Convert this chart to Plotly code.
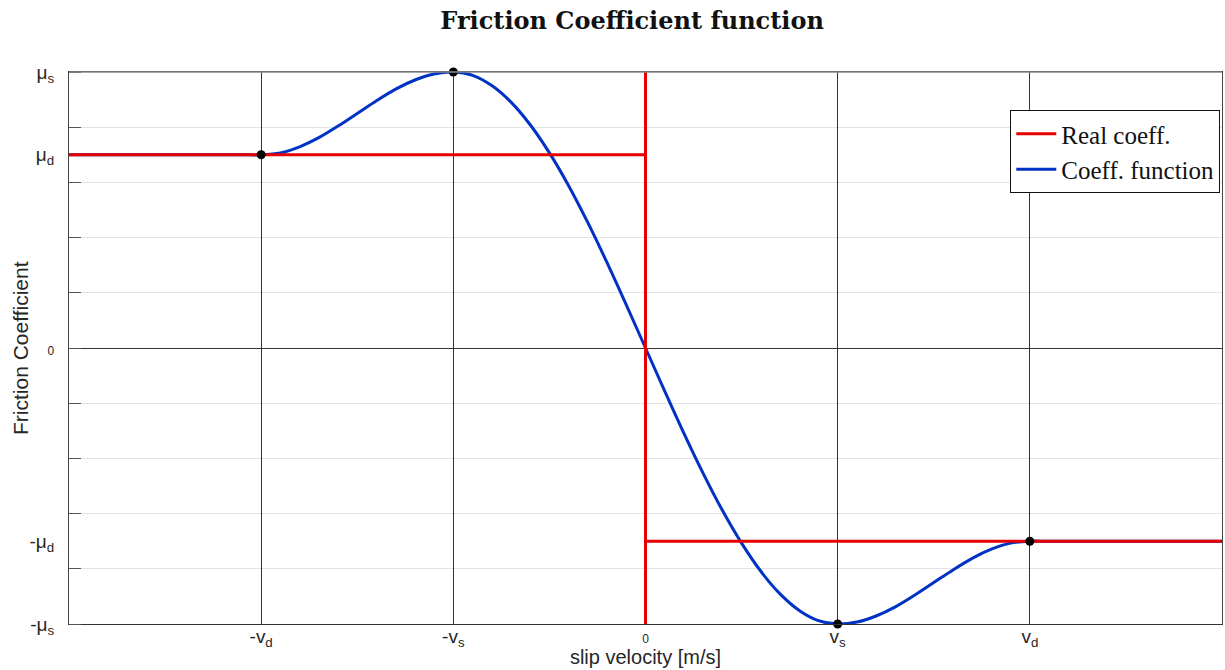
import plotly.graph_objects as go

# slip velocity (in units of v_s; v_d = 2 v_s) and friction coefficient (in units of mu_s)
x_curve = [-3.0, -2.5, -2.1, -2.0, -1.9, -1.8, -1.7, -1.6, -1.5, -1.4, -1.3, -1.2, -1.1, -1.0,
           -0.9, -0.8, -0.7, -0.6, -0.5, -0.4, -0.3, -0.2, -0.1, 0.0,
           0.1, 0.2, 0.3, 0.4, 0.5, 0.6, 0.7, 0.8, 0.9, 1.0,
           1.1, 1.2, 1.3, 1.4, 1.5, 1.6, 1.7, 1.8, 1.9, 2.0, 2.1, 2.5, 3.0]
y_curve = [0.70, 0.70, 0.70, 0.70, 0.707, 0.729, 0.762, 0.804, 0.85, 0.896, 0.938, 0.971, 0.993, 1.0,
           0.988, 0.951, 0.891, 0.809, 0.707, 0.588, 0.454, 0.309, 0.156, 0.0,
           -0.156, -0.309, -0.454, -0.588, -0.707, -0.809, -0.891, -0.951, -0.988, -1.0,
           -0.993, -0.971, -0.938, -0.896, -0.85, -0.804, -0.762, -0.729, -0.707, -0.70, -0.70,
           -0.70, -0.70]

x_real = [-3.0, 0.0, 0.0, 0.0, 0.0, 3.0]
y_real = [0.70, 0.70, 1.0, -1.0, -0.70, -0.70]

x_points = [-2.0, -1.0, 1.0, 2.0]
y_points = [0.70, 1.0, -1.0, -0.70]

x_tickvals = [-2.0, -1.0, 0.0, 1.0, 2.0]
x_ticktext = ["-v<sub>d</sub>", "-v<sub>s</sub>", "<span style='font-size:12px'>0</span>",
              "v<sub>s</sub>", "v<sub>d</sub>"]
y_tickvals = [-1.0, -0.70, 0.0, 0.70, 1.0]
y_ticktext = ["-μ<sub>s</sub>", "-μ<sub>d</sub>", "<span style='font-size:12px'>0</span>",
              "μ<sub>d</sub>", "μ<sub>s</sub>"]

RED = "#e60000"
BLUE = "#0033c4"

fig = go.Figure()
fig.add_trace(go.Scatter(x=x_curve, y=y_curve, mode="lines", name="Coeff. function",
                         line=dict(color=BLUE, width=3, shape="spline", smoothing=0.8),
                         legendrank=2))
fig.add_trace(go.Scatter(x=x_real, y=y_real, mode="lines", name="Real coeff.",
                         line=dict(color=RED, width=3), legendrank=1))
fig.add_trace(go.Scatter(x=x_points, y=y_points, mode="markers", showlegend=False,
                         marker=dict(color="black", size=9), cliponaxis=False))

fig.update_layout(
    width=1225, height=670,
    margin=dict(l=69, r=3, t=72, b=46, autoexpand=False),
    plot_bgcolor="white", paper_bgcolor="white",
    title=dict(text="<b>Friction Coefficient function</b>", x=0.516, xanchor="center",
               y=0.97, yanchor="middle",
               font=dict(family="DejaVu Serif", size=24, color="#111")),
    legend=dict(x=0.9985, xanchor="right", y=0.931, yanchor="top",
                bgcolor="white", bordercolor="#111", borderwidth=1,
                font=dict(family="Liberation Serif", size=25, color="#111"),
                itemwidth=40, tracegroupgap=0),
    font=dict(family="Liberation Sans", color="#262626"),
    shapes=[dict(type="line", xref="paper", yref="paper", x0=0, x1=1, y0=1, y1=1,
                 line=dict(color="#888", width=1.5))],
    annotations=[dict(text="Friction Coefficient", xref="paper", yref="paper",
                      x=-0.0425, y=0.5, xanchor="center", yanchor="middle",
                      textangle=-90, showarrow=False,
                      font=dict(family="Liberation Sans", size=21, color="#262626"))],
)
fig.update_xaxes(
    range=[-3, 3], tickvals=x_tickvals, ticktext=x_ticktext,
    tickfont=dict(size=19, color="#262626"), ticklabelstandoff=-5,
    showgrid=True, gridcolor="#333", gridwidth=1, zeroline=False,
    showline=True, linecolor="#333", linewidth=1, mirror=True, ticks="",
    title=dict(text="slip velocity [m/s]", font=dict(size=20, color="#262626"), standoff=0),
)
fig.update_yaxes(
    range=[-1, 1], tickvals=y_tickvals, ticktext=y_ticktext,
    tickfont=dict(size=19, color="#262626"), ticklabelstandoff=10,
    showgrid=False, zeroline=True, zerolinecolor="#333", zerolinewidth=1,
    showline=True, linecolor="#444", linewidth=1, mirror=True, ticks="",
    minor=dict(tickmode="linear", tick0=0, dtick=0.2, showgrid=True, gridcolor="#e3e3e3",
               gridwidth=1, ticks="inside", ticklen=12, tickcolor="#555"),
)

fig.write_html("out.html", config={"displayModeBar": False},
               post_script="document.body.style.margin='0px';")
